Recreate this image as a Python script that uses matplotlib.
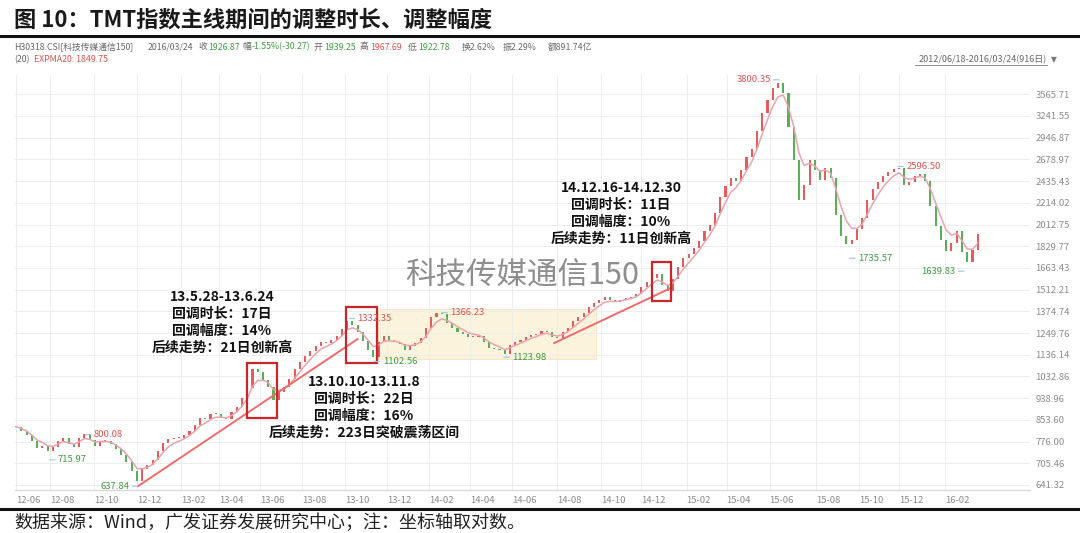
import numpy as np
import pandas as pd
import matplotlib
matplotlib.use('Agg')
import matplotlib.pyplot as plt
from matplotlib.lines import Line2D
from matplotlib.patches import Rectangle

plt.rcParams['font.family'] = ['Noto Sans CJK SC', 'DejaVu Sans']
plt.rcParams['axes.unicode_minus'] = False

W, H = 1080, 533

# 收盘价（每5个交易日读一次，2012/06/18 - 2016/03/24）
closes = [
    828, 813, 798, 778, 755, 761, 745, 758, 778, 788,
    768, 758, 788, 802, 781, 761, 778, 778, 768, 751,
    732, 709, 682, 653, 688, 700, 716, 745, 771, 785,
    788, 788, 798, 813, 835, 860, 857, 876, 876, 864,
    857, 884, 904, 941, 982, 1068, 1053, 1017, 987, 932,
    965, 987, 1021, 1068, 1101, 1130, 1155, 1181, 1202, 1196,
    1212, 1233, 1273, 1318, 1295, 1256, 1207, 1160, 1125, 1202,
    1233, 1212, 1202, 1191, 1160, 1181, 1196, 1222, 1278, 1341,
    1364, 1359, 1307, 1278, 1256, 1245, 1228, 1228, 1233, 1202,
    1170, 1165, 1160, 1140, 1186, 1202, 1212, 1228, 1239, 1245,
    1262, 1256, 1228, 1222, 1256, 1278, 1318, 1341, 1364, 1400,
    1425, 1445, 1464, 1445, 1432, 1445, 1458, 1464, 1483, 1530,
    1564, 1592, 1620, 1544, 1503, 1585, 1671, 1738, 1770, 1816,
    1873, 1958, 2009, 2118, 2272, 2382, 2470, 2437, 2558, 2708,
    2805, 3036, 3286, 3479, 3667, 3749, 3585, 3090, 2673, 2242,
    2394, 2673, 2558, 2448, 2580, 2470, 2100, 1915, 1848, 1881,
    1975, 2072, 2242, 2353, 2426, 2492, 2536, 2569, 2580, 2394,
    2426, 2492, 2514, 2437, 2179, 2000, 1881, 1792, 1856, 1958,
    1784, 1708, 1800, 1927,
]
day_step = 5

month_labels = ['12-06', '12-08', '12-10', '12-12', '13-02', '13-04', '13-06', '13-08',
                '13-10', '13-12', '14-02', '14-04', '14-06', '14-08', '14-10', '14-12',
                '15-02', '15-04', '15-06', '15-08', '15-10', '15-12', '16-02']
month_idx = [0, 32, 74, 115, 157, 193, 232, 272, 313, 353, 393, 432,
             472, 515, 557, 595, 638, 676, 717, 761, 802, 840, 884]

y_ticks = [641.32, 705.46, 776.00, 853.60, 938.96, 1032.86, 1136.14, 1249.76, 1374.74,
           1512.21, 1663.43, 1829.77, 2012.75, 2214.02, 2435.43, 2678.97, 2946.87,
           3241.55, 3565.71]

# 标注的高低点
ext_idx = [726, 839, 793, 902, 317, 405, 341, 464, 66, 32, 116]
ext_val = [3800.35, 2596.50, 1735.57, 1639.83, 1332.35, 1366.23, 1102.56, 1123.98,
           800.08, 715.97, 637.84]
ext_high = [True, True, False, False, True, True, False, False, True, False, False]
ext_side = ['l', 'r', 'r', 'l', 'r', 'r', 'r', 'r', 'r', 'r', 'l']

# 调整区间框
box_start = [220, 314, 605]
box_end = [248, 343, 623]
box_low = [861, 1095, 1439]
box_high = [1095, 1401, 1708]

# 震荡区间
zone = (344, 552, 1115, 1389)

# 趋势线
trend_x = [(116, 325), (512, 623)]
trend_y = [(637.84, 1217), (1196, 1523)]

RED = '#e35d5f'
GREEN = '#5aae5a'
LBL_RED = '#d9534f'
LBL_GREEN = '#3f9a3f'
GRAY = '#8a8a8a'

fig = plt.figure(figsize=(W / 100, H / 100), dpi=100)


def fx(x):
    return x / W


def fy(y):
    return 1 - y / H


ax = fig.add_axes([fx(15), fy(490), 1015 / W, 415 / H])
ax.set_yscale('log')

closes = np.array(closes, dtype=float)
x = np.arange(len(closes)) * day_step
opens = np.r_[closes[0], closes[:-1]]
up = closes >= opens
lo = np.minimum(opens, closes)
hi = np.maximum(opens, closes)
hi = np.where(hi - lo < 2, lo * 1.004, hi)
ax.bar(x[up], hi[up] - lo[up], bottom=lo[up], width=2.0, color=RED, lw=0, zorder=3)
ax.bar(x[~up], hi[~up] - lo[~up], bottom=lo[~up], width=2.0, color=GREEN, lw=0, zorder=3)

ema = pd.Series(closes).ewm(span=20 / day_step, adjust=False).mean()
ax.plot(x, ema, color='#e9a3ad', lw=1.1, zorder=4)

# 震荡区间
ax.add_patch(Rectangle((zone[0], zone[2]), zone[1] - zone[0], zone[3] - zone[2],
                       facecolor='#fbefd2', edgecolor='#f5e2b8', lw=0.8, alpha=0.75, zorder=1))

for (x0, x1), (v0, v1) in zip(trend_x, trend_y):
    ax.plot([x0, x1], [v0, v1], color='#ee6b6b', lw=1.4, zorder=5)

for s, e, l, h in zip(box_start, box_end, box_low, box_high):
    ax.add_patch(Rectangle((s, l), e - s, h - l, facecolor='none', edgecolor='#c9262c',
                           lw=1.6, zorder=6))

for i, v, hflag, side in zip(ext_idx, ext_val, ext_high, ext_side):
    dx = -6 if side == 'l' else 6
    ax.annotate(f'{v:.2f}', xy=(i, v), xytext=(dx, 0), textcoords='offset points',
                ha='right' if side == 'l' else 'left', va='center', fontsize=6.8,
                color=LBL_RED if hflag else LBL_GREEN, zorder=7,
                arrowprops=dict(arrowstyle='-', color='#9cc7e4', lw=0.8, shrinkA=0, shrinkB=0))

ax.set_xlim(-1, 1015 / 1.051 - 1)
ax.set_ylim(627.3, 3881)
ax.set_xticks(month_idx)
ax.set_xticklabels(month_labels, ha='left')
ax.set_yticks(y_ticks)
ax.set_yticklabels([f'{t:.2f}' for t in y_ticks])
ax.yaxis.set_minor_locator(matplotlib.ticker.NullLocator())
ax.yaxis.tick_right()
ax.tick_params(axis='both', length=0, labelsize=6.8, colors=GRAY)
ax.tick_params(axis='y', pad=4)
ax.tick_params(axis='x', pad=4)
ax.grid(True, color='#ededed', lw=0.7, zorder=0)
for sp in ['top', 'left', 'right']:
    ax.spines[sp].set_visible(False)
ax.spines['bottom'].set_color('#d5d5d5')
ax.spines['bottom'].set_linewidth(0.8)

# 水印
fig.text(fx(522), fy(275), '科技传媒通信150', fontsize=22, color='#8e8e8e',
         ha='center', va='center', zorder=2)

# 注释
blocks = [
    (222, 297, ['13.5.28-13.6.24', '回调时长：17日', '回调幅度：14%', '后续走势：21日创新高']),
    (364, 382, ['13.10.10-13.11.8', '回调时长：22日', '回调幅度：16%', '后续走势：223日突破震荡区间']),
    (621, 188, ['14.12.16-14.12.30', '回调时长：11日', '回调幅度：10%', '后续走势：11日创新高']),
]
for cx, cy, lines in blocks:
    for k, t in enumerate(lines):
        fig.text(fx(cx), fy(cy + k * 17), t, fontsize=10, fontweight='bold',
                 color='#111111', ha='center', va='center')

# 标题
fig.text(fx(14), fy(20), '图 10：TMT指数主线期间的调整时长、调整幅度', fontsize=16,
         fontweight='bold', color='#1a1a1a', ha='left', va='center')
fig.add_artist(Line2D([0, 1], [fy(35.5), fy(35.5)], color='#111111', lw=2.2))
fig.add_artist(Line2D([0, 1], [fy(508.5), fy(508.5)], color='#111111', lw=2.2))

# 行情信息
header = [
    (14, 'H30318.CSI[科技传媒通信150]', '#666666'), (148, '2016/03/24', '#666666'),
    (198, '收', '#666666'), (208, '1926.87', LBL_GREEN),
    (242, '幅', '#666666'), (252, '-1.55%(-30.27)', LBL_GREEN),
    (314, '开', '#666666'), (324, '1939.25', LBL_GREEN),
    (360, '高', '#666666'), (370, '1967.69', LBL_RED),
    (408, '低', '#666666'), (418, '1922.78', LBL_GREEN),
    (462, '换2.62%', '#666666'), (503, '振2.29%', '#666666'), (548, '额891.74亿', '#666666'),
]
for hx, t, c in header:
    fig.text(fx(hx), fy(47), t, fontsize=6.3, color=c, ha='left', va='center')
fig.text(fx(14), fy(60), '(20)', fontsize=6.3, color='#666666', ha='left', va='center')
fig.text(fx(34), fy(60), 'EXPMA20: 1849.75', fontsize=6.3, color=LBL_RED, ha='left', va='center')
fig.text(fx(1047), fy(60), '2012/06/18-2016/03/24(916日)', fontsize=6.5, color='#666666',
         ha='right', va='center')
fig.add_artist(Line2D([fx(915), fx(1047)], [fy(65), fy(65)], color='#777777', lw=0.6))
fig.text(fx(1051), fy(60), '▼', fontsize=5.5, color='#777777', ha='left', va='center',
         family=['DejaVu Sans'])

# 来源
fig.text(fx(14), fy(523), '数据来源：Wind，广发证券发展研究中心；注：坐标轴取对数。', fontsize=13,
         color='#222222', ha='left', va='center')

fig.savefig('out.png', dpi=100)
